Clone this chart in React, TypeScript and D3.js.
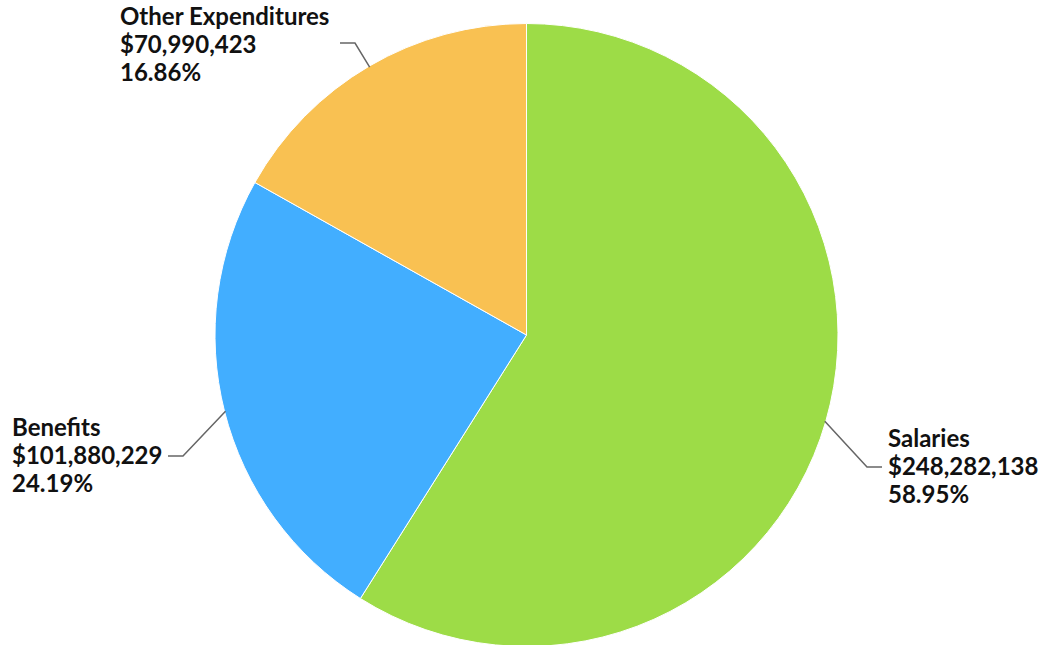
import React from "react";
import * as d3 from "d3";

const categories = ["Salaries", "Benefits", "Other Expenditures"];
const values = [248282138, 101880229, 70990423];
const colors = ["#9ddc47", "#42aeff", "#f9c152"];

const W = 1044;
const H = 645;
const cx = 526.5;
const cy = 335;
const R = 311.5;

// label layout: side, horizontal line y, horizontal end x, text x
const layout = [
  { side: 1, y: 467, endX: 882, textX: 888, firstBaseline: 447 },
  { side: -1, y: 456, endX: 168, textX: 12, firstBaseline: 436 },
  { side: -1, y: 43, endX: 340, textX: 120, firstBaseline: 25 },
];

export default function App() {
  const total = d3.sum(values);
  const pie = d3.pie<number>().sort(null).value((d) => d)(values);
  const arc = d3.arc<d3.PieArcDatum<number>>().innerRadius(0).outerRadius(R);
  const fmt = d3.format("$,");
  const pct = d3.format(".2%");

  return (
    <svg
      width={W}
      height={H}
      style={{ position: "absolute", left: 0, top: 0, fontFamily: "Lato, sans-serif" }}
    >
      <rect width={W} height={H} fill="#ffffff" />
      <g transform={`translate(${cx},${cy})`}>
        {pie.map((p, i) => (
          <path key={i} d={arc(p) || ""} fill={colors[i]} stroke="#ffffff" strokeWidth={1} />
        ))}
      </g>
      {pie.map((p, i) => {
        const a = (p.startAngle + p.endAngle) / 2;
        const ex = cx + Math.sin(a) * (R - 1);
        const ey = cy - Math.cos(a) * (R - 1);
        const L = layout[i];
        const elbowX = L.endX - L.side * 15;
        const lines = [categories[i], fmt(values[i]), pct(values[i] / total)];
        return (
          <g key={i}>
            <polyline
              points={`${ex},${ey} ${elbowX},${L.y} ${L.endX},${L.y}`}
              fill="none"
              stroke="#666666"
              strokeWidth={1.5}
            />
            {lines.map((t, j) => (
              <text
                key={j}
                x={L.textX}
                y={L.firstBaseline + j * 28}
                fontSize={24}
                fontWeight="bold"
                fill="#111111"
              >
                {t}
              </text>
            ))}
          </g>
        );
      })}
    </svg>
  );
}
